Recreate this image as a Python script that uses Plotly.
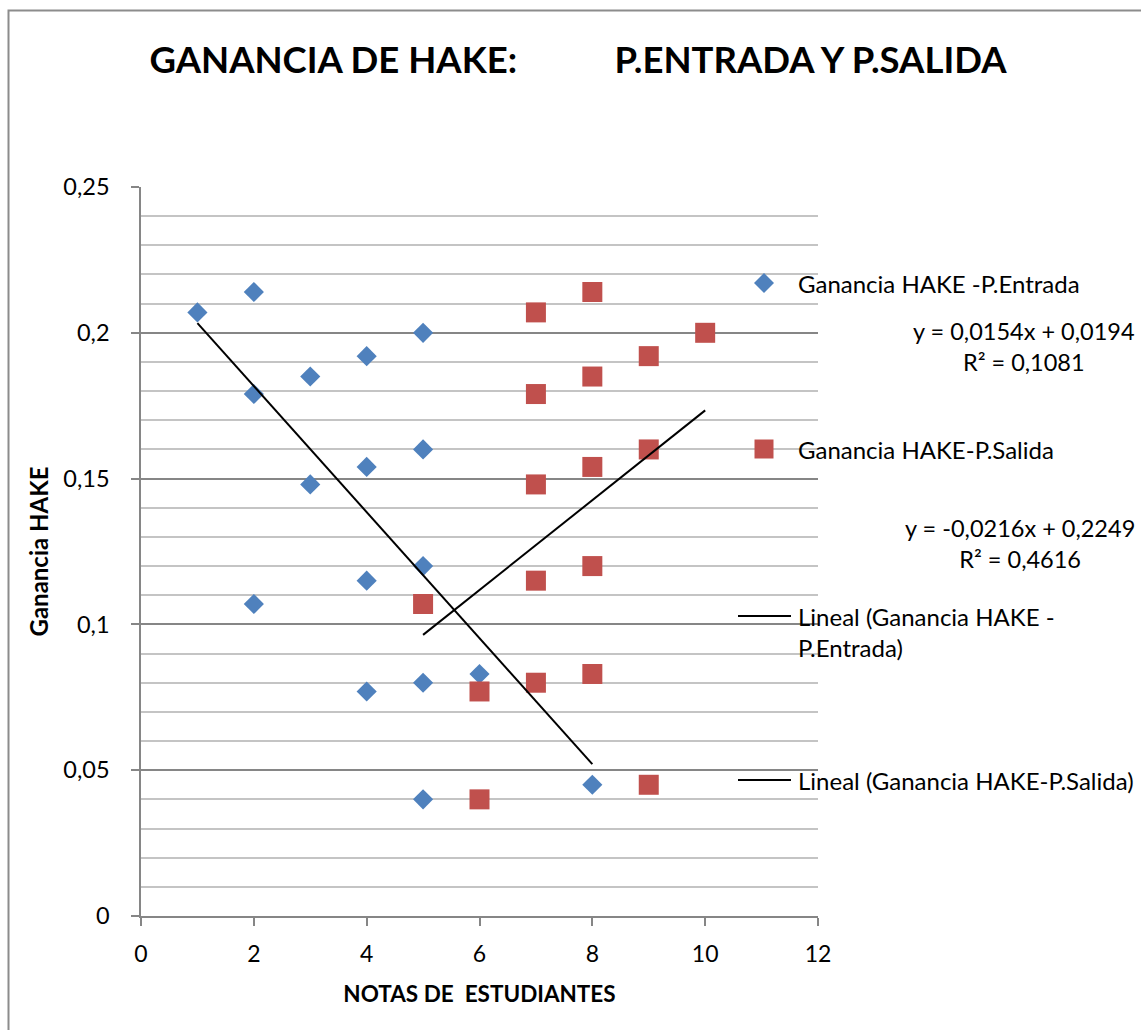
import plotly.graph_objects as go

# ---------------- data ----------------
entrada_x = [1, 2, 2, 2, 3, 3, 4, 4, 4, 4, 5, 5, 5, 5, 5, 6, 8]
entrada_y = [0.207, 0.214, 0.179, 0.107, 0.185, 0.148, 0.192, 0.154, 0.115,
             0.077, 0.200, 0.160, 0.120, 0.080, 0.040, 0.083, 0.045]
salida_x = [5, 6, 6, 7, 7, 7, 7, 7, 8, 8, 8, 8, 8, 9, 9, 9, 10]
salida_y = [0.107, 0.077, 0.040, 0.207, 0.179, 0.148, 0.115, 0.080, 0.214,
            0.185, 0.154, 0.120, 0.083, 0.192, 0.160, 0.045, 0.200]

# linear trend coefficients (as printed on the chart)
trend_entrada = {"slope": -0.0216, "intercept": 0.2249}
trend_salida = {"slope": 0.0154, "intercept": 0.0194}

series_names = ["Ganancia HAKE -P.Entrada", "Ganancia HAKE-P.Salida"]
trend_names = ["Lineal (Ganancia HAKE -<br>P.Entrada)", "Lineal (Ganancia HAKE-P.Salida)"]
eq_labels = ["y = 0,0154x + 0,0194<br>R² = 0,1081", "y = -0,0216x + 0,2249<br>R² = 0,4616"]

title_text = "GANANCIA DE HAKE:" + "\u00a0" * 11 + "P.ENTRADA Y P.SALIDA"
x_title = "NOTAS DE\u00a0\u00a0ESTUDIANTES"
y_title = "Ganancia HAKE"

# ---------------- layout constants ----------------
W, H = 1141, 1030
L, R, T, B = 141, 818, 187, 916
FONT = "Lato"
BLUE = "#4F81BD"
RED = "#C0504D"


def px(x):
    return (x - L) / (R - L)


def py(y):
    return (B - y) / (B - T)


fig = go.Figure()

fig.add_trace(go.Scatter(
    x=entrada_x, y=entrada_y, mode="markers", name=series_names[0],
    marker=dict(symbol="diamond", size=15.5, color=BLUE, line=dict(width=0)),
))
fig.add_trace(go.Scatter(
    x=salida_x, y=salida_y, mode="markers", name=series_names[1],
    marker=dict(symbol="square", size=20, color=RED, line=dict(width=0)),
))

for xs, tr in ((entrada_x, trend_entrada), (salida_x, trend_salida)):
    x0, x1 = min(xs), max(xs)
    fig.add_trace(go.Scatter(
        x=[x0, x1],
        y=[tr["slope"] * x0 + tr["intercept"], tr["slope"] * x1 + tr["intercept"]],
        mode="lines", line=dict(color="black", width=2), showlegend=False,
    ))

shapes = []
# outer chart border
shapes.append(dict(type="rect", xref="paper", yref="paper",
                   x0=px(8.5), x1=px(1170), y0=py(1060), y1=py(10.5),
                   line=dict(color="#8C8C8C", width=2), fillcolor="rgba(0,0,0,0)"))
# legend diamond
cx, cy, r = 764, 283, 10
shapes.append(dict(type="path", xref="paper", yref="paper",
                   path=f"M {px(cx-r)},{py(cy)} L {px(cx)},{py(cy-r)} L {px(cx+r)},{py(cy)} L {px(cx)},{py(cy+r)} Z",
                   fillcolor=BLUE, line=dict(width=0)))
# legend square
cx, cy, r = 764, 449, 9.5
shapes.append(dict(type="rect", xref="paper", yref="paper",
                   x0=px(cx - r), x1=px(cx + r), y0=py(cy + r), y1=py(cy - r),
                   fillcolor=RED, line=dict(width=0)))
# legend line samples
for yy in (616, 780):
    shapes.append(dict(type="line", xref="paper", yref="paper",
                       x0=px(738), x1=px(791), y0=py(yy), y1=py(yy),
                       line=dict(color="black", width=2)))

LEG_FONT = dict(family=FONT, size=24, color="black")
EQ_FONT = dict(family=FONT, size=23.5, color="black")
annotations = [
    dict(text=series_names[0], x=px(796), y=py(283), xanchor="left", yanchor="middle", font=LEG_FONT),
    dict(text=series_names[1], x=px(796), y=py(449), xanchor="left", yanchor="middle", font=LEG_FONT),
    dict(text=eq_labels[0], x=px(1024), y=py(346), xanchor="center", yanchor="middle", align="center", font=EQ_FONT),
    dict(text=eq_labels[1], x=px(1020), y=py(543), xanchor="center", yanchor="middle", align="center", font=EQ_FONT),
    dict(text=trend_names[0], x=px(796), y=py(632), xanchor="left", yanchor="middle", align="left", font=LEG_FONT),
    dict(text=trend_names[1], x=px(796), y=py(780), xanchor="left", yanchor="middle", font=LEG_FONT),
]
for a in annotations:
    a.update(xref="paper", yref="paper", showarrow=False)

fig.update_layout(
    width=W, height=H,
    margin=dict(l=L, r=W - R, t=T, b=H - B, pad=0),
    paper_bgcolor="white", plot_bgcolor="white",
    separators=",.",
    showlegend=False,
    font=dict(family=FONT, size=23, color="black"),
    title=dict(text=title_text, x=578 / W, xanchor="center", xref="container",
               y=1 - 60 / H, yanchor="middle", yref="container",
               font=dict(family=FONT, size=36.5, color="black", weight=700)),
    xaxis=dict(range=[0, 12], dtick=2, tick0=0, showgrid=False, zeroline=False,
               showline=True, linecolor="#868686", linewidth=1.5,
               ticks="outside", ticklen=8, tickwidth=1.5, tickcolor="#868686",
               ticklabelstandoff=9,
               tickfont=dict(family=FONT, size=23, color="black"),
               title=dict(text=x_title, standoff=20,
                          font=dict(family=FONT, size=22.5, color="black", weight=700))),
    yaxis=dict(range=[0, 0.25], dtick=0.05, tick0=0, showgrid=True,
               gridcolor="#868686", gridwidth=1.5, zeroline=False,
               showline=True, linecolor="#868686", linewidth=1.5,
               ticks="outside", ticklen=8, tickwidth=1.5, tickcolor="#868686",
               ticklabelstandoff=17,
               tickfont=dict(family=FONT, size=23.5, color="black"),
               minor=dict(dtick=0.01, showgrid=True, gridcolor="#C4C4C4", gridwidth=1.5, ticks=""),
               title=dict(text=y_title, standoff=8,
                          font=dict(family=FONT, size=24, color="black", weight=700))),
    shapes=shapes,
    annotations=annotations,
)

fig.write_html("out.html", config={"displayModeBar": False},
               post_script="document.body.style.margin='0';")
